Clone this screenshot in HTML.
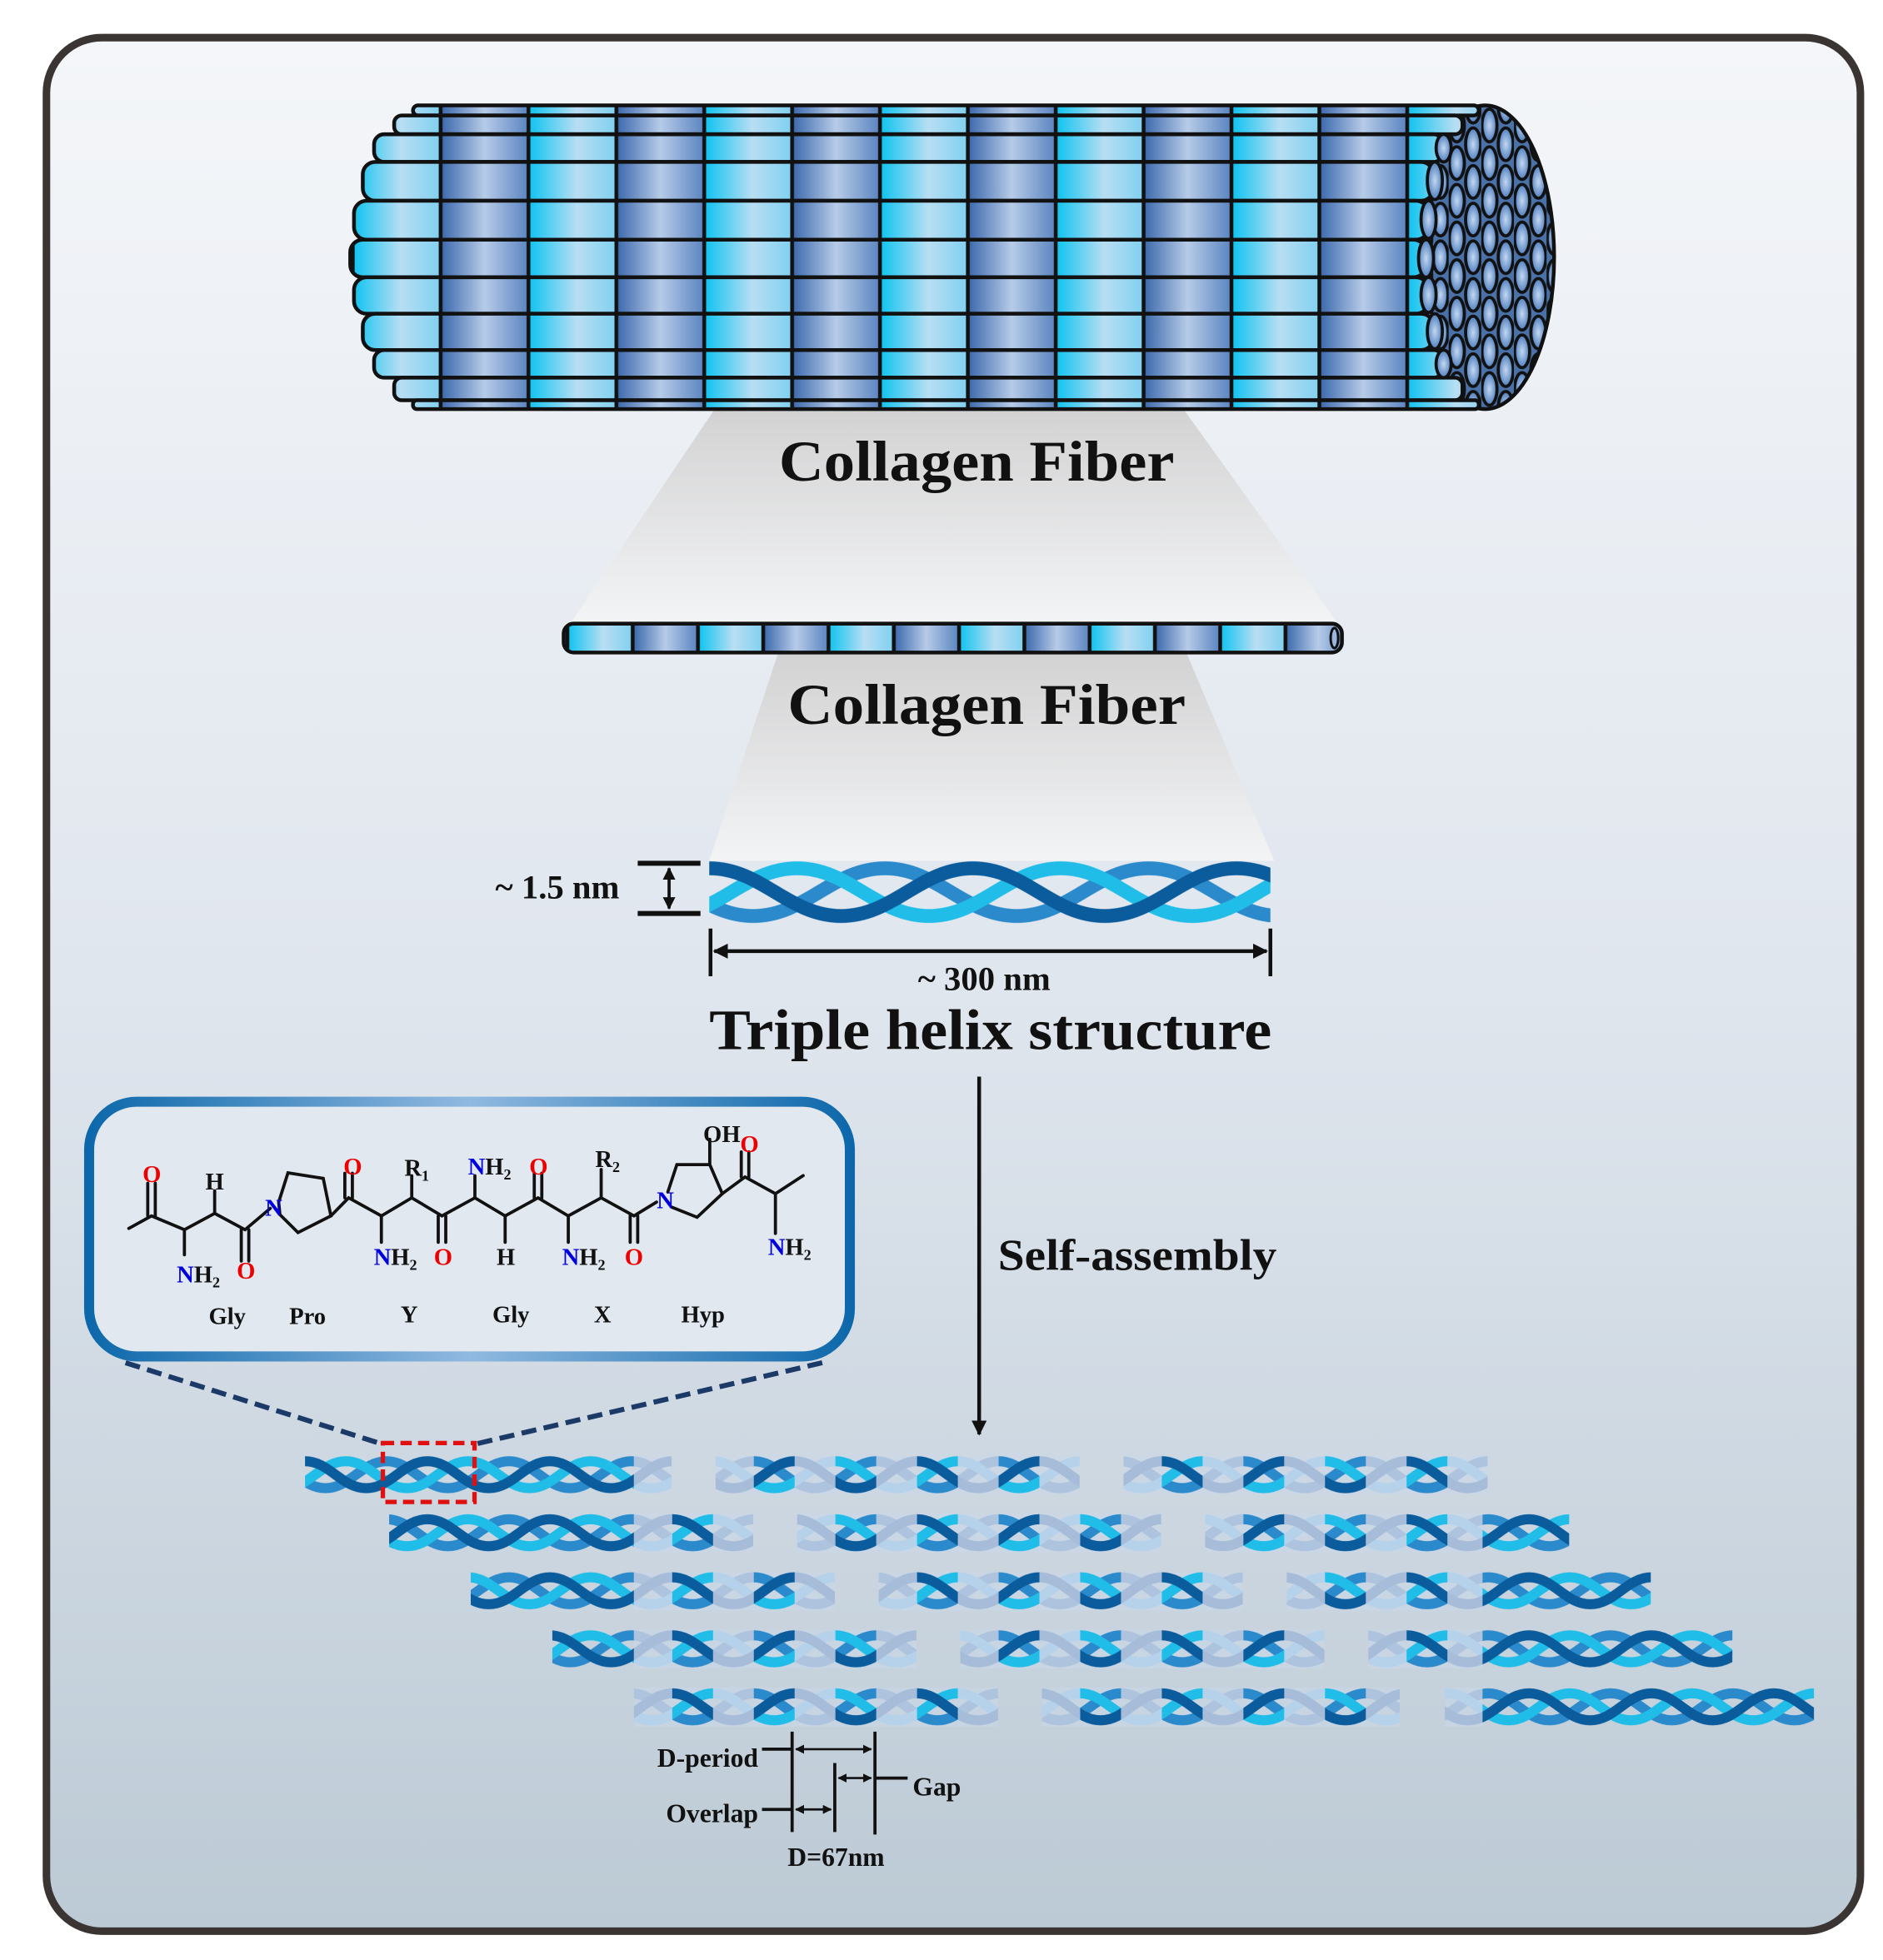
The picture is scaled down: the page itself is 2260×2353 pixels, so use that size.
<!DOCTYPE html>
<html><head><meta charset="utf-8"><style>
html,body{margin:0;padding:0;background:#fff;}
svg{display:block;}
text{font-family:"Liberation Serif",serif;font-weight:bold;}
</style></head><body>
<svg width="2260" height="2353" viewBox="0 0 1500 1562" preserveAspectRatio="none" xmlns="http://www.w3.org/2000/svg">
<defs>
<linearGradient id="bg" x1="0" y1="0" x2="0" y2="1"><stop offset="0" stop-color="#f4f6f9"/><stop offset="0.5" stop-color="#e0e6ee"/><stop offset="1" stop-color="#bccad5"/></linearGradient>
<linearGradient id="fun" x1="0" y1="0" x2="0" y2="1"><stop offset="0" stop-color="#d2d2d3"/><stop offset="1" stop-color="#f3f4f5"/></linearGradient>
<linearGradient id="cy" x1="0" y1="0" x2="1" y2="0"><stop offset="0" stop-color="#0cc3f0"/><stop offset="0.55" stop-color="#b8def3"/><stop offset="1" stop-color="#7fd0f0"/></linearGradient>
<linearGradient id="bl" x1="0" y1="0" x2="1" y2="0"><stop offset="0" stop-color="#3a67ab"/><stop offset="0.5" stop-color="#b6cbe8"/><stop offset="1" stop-color="#5a84c0"/></linearGradient>
<pattern id="fib" patternUnits="userSpaceOnUse" x="281" y="0" width="140" height="400">
<rect x="0" y="0" width="70" height="400" fill="url(#cy)"/>
<rect x="70" y="0" width="70" height="400" fill="url(#bl)"/>
<rect x="-1.5" y="0" width="3" height="400" fill="#111"/>
<rect x="68.5" y="0" width="3" height="400" fill="#111"/>
<rect x="138.5" y="0" width="3" height="400" fill="#111"/>
</pattern>
<pattern id="fib2" patternUnits="userSpaceOnUse" x="452" y="0" width="104" height="600">
<rect x="0" y="0" width="52" height="600" fill="url(#cy)"/>
<rect x="52" y="0" width="52" height="600" fill="url(#bl)"/>
<rect x="-1.5" y="0" width="3" height="600" fill="#111"/>
<rect x="50.5" y="0" width="3" height="600" fill="#111"/>
<rect x="102.5" y="0" width="3" height="600" fill="#111"/>
</pattern>
<radialGradient id="capg" cx="0.5" cy="0.5" r="0.5"><stop offset="0" stop-color="#c4d8f0"/><stop offset="1" stop-color="#4f7fc0"/></radialGradient>
<pattern id="cap" patternUnits="userSpaceOnUse" x="1128" y="85" width="26" height="30">
<rect width="26" height="30" fill="#4a72a8"/>
<ellipse cx="6.5" cy="15" rx="6" ry="13" fill="url(#capg)" stroke="#111" stroke-width="2.5"/>
<ellipse cx="19.5" cy="0" rx="6" ry="13" fill="url(#capg)" stroke="#111" stroke-width="2.5"/>
<ellipse cx="19.5" cy="30" rx="6" ry="13" fill="url(#capg)" stroke="#111" stroke-width="2.5"/>
</pattern>
<clipPath id="capclip"><ellipse cx="1183" cy="205" rx="55" ry="121"/></clipPath>
<pattern id="ht" patternUnits="userSpaceOnUse" x="565" y="683" width="210" height="56">
<g fill="none" stroke-width="11" stroke-linecap="round">
<path transform="translate(140,0)" stroke="#2a8acb" d="M-210,9 C-168,9 -147,47 -105,47 S-42,9 0,9 S63,47 105,47 S168,9 210,9 S273,47 315,47"/>
<path transform="translate(70,0)" stroke="#1fbde8" d="M-210,9 C-168,9 -147,47 -105,47 S-42,9 0,9 S63,47 105,47 S168,9 210,9 S273,47 315,47"/>
<path stroke="#0a5c9c" d="M-210,9 C-168,9 -147,47 -105,47 S-42,9 0,9 S63,47 105,47 S168,9 210,9 S273,47 315,47"/>
</g>
</pattern>
<pattern id="hr" patternUnits="userSpaceOnUse" x="243" y="1160" width="97.5" height="46.25">
<g fill="none" stroke-width="8">
<path transform="translate(65,0)" stroke="#2a8acb" d="M-97.5,4.5 C-78,4.5 -68,26 -48.75,26 S-19.5,4.5 0,4.5 S29,26 48.75,26 S78,4.5 97.5,4.5 S127,26 146.25,26"/>
<path transform="translate(32.5,0)" stroke="#1fbde8" d="M-97.5,4.5 C-78,4.5 -68,26 -48.75,26 S-19.5,4.5 0,4.5 S29,26 48.75,26 S78,4.5 97.5,4.5 S127,26 146.25,26"/>
<path stroke="#0a5c9c" d="M-97.5,4.5 C-78,4.5 -68,26 -48.75,26 S-19.5,4.5 0,4.5 S29,26 48.75,26 S78,4.5 97.5,4.5 S127,26 146.25,26"/>
</g>
</pattern>
<pattern id="hf" patternUnits="userSpaceOnUse" x="243" y="1160" width="97.5" height="46.25">
<rect x="0" y="0" width="97.5" height="31" fill="#c9d8ea" fill-opacity="0.5"/>
<g fill="none" stroke-width="8">
<path transform="translate(65,0)" stroke="#adc3de" d="M-97.5,4.5 C-78,4.5 -68,26 -48.75,26 S-19.5,4.5 0,4.5 S29,26 48.75,26 S78,4.5 97.5,4.5 S127,26 146.25,26"/>
<path transform="translate(32.5,0)" stroke="#b5d2ea" d="M-97.5,4.5 C-78,4.5 -68,26 -48.75,26 S-19.5,4.5 0,4.5 S29,26 48.75,26 S78,4.5 97.5,4.5 S127,26 146.25,26"/>
<path stroke="#a6bcd8" d="M-97.5,4.5 C-78,4.5 -68,26 -48.75,26 S-19.5,4.5 0,4.5 S29,26 48.75,26 S78,4.5 97.5,4.5 S127,26 146.25,26"/>
</g>
</pattern>
<pattern id="st" patternUnits="userSpaceOnUse" x="243" y="0" width="65" height="1600">
<rect x="32.5" y="0" width="32.5" height="1600" fill="#fff"/>
</pattern>
<mask id="mk" maskUnits="userSpaceOnUse" x="0" y="0" width="1500" height="1562"><rect x="0" y="0" width="1500" height="1562" fill="url(#st)"/></mask>
<linearGradient id="boxg" x1="0" y1="0" x2="1" y2="0"><stop offset="0" stop-color="#0d68ab"/><stop offset="0.5" stop-color="#90b9e0"/><stop offset="1" stop-color="#0d68ab"/></linearGradient>
<marker id="ah" viewBox="0 0 10 10" refX="9" refY="5" markerWidth="4" markerHeight="4" orient="auto-start-reverse"><path d="M0,0 L10,5 L0,10 z" fill="#111"/></marker>
</defs>

<rect x="37" y="30" width="1445" height="1509" rx="44" fill="url(#bg)" stroke="#3a3433" stroke-width="6"/>

<polygon points="570,325 942,325 1065,496 455,496" fill="url(#fun)"/>
<polygon points="620,520 945,520 1015,686 565,686" fill="url(#fun)"/>

<g clip-path="url(#capclip)"><rect x="1120" y="80" width="130" height="250" fill="url(#cap)"/></g>
<ellipse cx="1183" cy="205" rx="55" ry="121" fill="none" stroke="#111" stroke-width="3"/>

<g stroke="#111" stroke-width="3" fill="url(#fib)">
<rect x="329" y="84" width="849" height="8" rx="4"/>
<rect x="314" y="92" width="851" height="15" rx="6"/>
<rect x="298" y="107" width="852" height="22" rx="8"/>
<rect x="289" y="129" width="853" height="31" rx="10"/>
<rect x="282" y="160" width="856" height="31" rx="10"/>
<rect x="279" y="191" width="857" height="30" rx="10"/>
<rect x="282" y="221" width="856" height="29" rx="10"/>
<rect x="289" y="250" width="853" height="29" rx="10"/>
<rect x="298" y="279" width="852" height="22" rx="8"/>
<rect x="314" y="301" width="851" height="18" rx="6"/>
<rect x="329" y="319" width="849" height="7" rx="3"/>
</g>
<g fill="url(#capg)" stroke="#111" stroke-width="2.5">
<ellipse cx="1150" cy="118" rx="6" ry="11"/><ellipse cx="1143" cy="144" rx="6" ry="15"/>
<ellipse cx="1138" cy="175" rx="6" ry="15"/><ellipse cx="1136" cy="206" rx="6" ry="15"/>
<ellipse cx="1138" cy="235" rx="6" ry="14"/><ellipse cx="1143" cy="264" rx="6" ry="14"/>
<ellipse cx="1150" cy="290" rx="6" ry="11"/>
</g>
<text x="778" y="383" font-size="46" text-anchor="middle" textLength="315" lengthAdjust="spacingAndGlyphs" fill="#111">Collagen Fiber</text>

<rect x="449" y="497" width="620" height="23" rx="8" fill="url(#fib2)" stroke="#111" stroke-width="3"/>
<ellipse cx="1063" cy="508.5" rx="3" ry="8" fill="#9bb8de" stroke="#111" stroke-width="2"/>
<text x="786" y="577" font-size="46" text-anchor="middle" textLength="317" lengthAdjust="spacingAndGlyphs" fill="#111">Collagen Fiber</text>

<rect x="565" y="683" width="447" height="56" fill="url(#ht)"/>
<g stroke="#111" stroke-width="4">
<line x1="508" y1="688" x2="558" y2="688"/><line x1="508" y1="728" x2="558" y2="728"/>
</g>
<line x1="533" y1="692" x2="533" y2="724" stroke="#111" stroke-width="2.5" marker-start="url(#ah)" marker-end="url(#ah)"/>
<text x="444" y="716" font-size="27" text-anchor="middle" fill="#111">~ 1.5 nm</text>
<g stroke="#111" stroke-width="3">
<line x1="566" y1="740" x2="566" y2="778"/><line x1="1012" y1="740" x2="1012" y2="778"/>
</g>
<line x1="569" y1="758" x2="1009" y2="758" stroke="#111" stroke-width="3" marker-start="url(#ah)" marker-end="url(#ah)"/>
<text x="784" y="789" font-size="27" text-anchor="middle" fill="#111">~ 300 nm</text>
<text x="789" y="836" font-size="46" text-anchor="middle" textLength="448" lengthAdjust="spacingAndGlyphs" fill="#111">Triple helix structure</text>

<line x1="780" y1="858" x2="780" y2="1143" stroke="#111" stroke-width="3" marker-end="url(#ah)"/>
<text x="795" y="1012" font-size="35" fill="#111" textLength="222" lengthAdjust="spacingAndGlyphs">Self-assembly</text>

<rect x="71" y="878" width="606" height="203" rx="38" fill="#e1e8f0" stroke="url(#boxg)" stroke-width="8"/>
<g stroke="#111" stroke-width="2.5" fill="none" stroke-linecap="round">
<polyline points="102.6,979 120.7,969 146.9,980 171,967 195.2,980 215.3,963"/>
<line x1="117.7" y1="969" x2="117.7" y2="943"/><line x1="123.7" y1="969" x2="123.7" y2="943"/>
<line x1="146.9" y1="980" x2="146.9" y2="1000"/>
<line x1="171" y1="967" x2="171" y2="949"/>
<line x1="192.2" y1="980" x2="192.2" y2="1005"/><line x1="198.2" y1="980" x2="198.2" y2="1005"/>
<polygon points="222,958 229.4,934.7 257.5,939.1 263.6,969 237.4,982.3 223,968"/>
<polyline points="263.6,969 277.7,954.6 303.8,969 328,954.6 352.1,969 378.3,954.6 402.4,969 428.6,954.6 452.7,969 478.9,954.6 505,969 523,958"/>
<line x1="274.7" y1="954.6" x2="274.7" y2="935"/><line x1="280.7" y1="954.6" x2="280.7" y2="935"/>
<line x1="303.8" y1="969" x2="303.8" y2="990"/>
<line x1="328" y1="954.6" x2="328" y2="937"/>
<line x1="349.1" y1="969" x2="349.1" y2="990"/><line x1="355.1" y1="969" x2="355.1" y2="990"/>
<line x1="378.3" y1="954.6" x2="378.3" y2="937"/>
<line x1="402.4" y1="969" x2="402.4" y2="990"/>
<line x1="425.6" y1="954.6" x2="425.6" y2="935"/><line x1="431.6" y1="954.6" x2="431.6" y2="935"/>
<line x1="452.7" y1="969" x2="452.7" y2="990"/>
<line x1="478.9" y1="954.6" x2="478.9" y2="932"/>
<line x1="502" y1="969" x2="502" y2="990"/><line x1="508" y1="969" x2="508" y2="990"/>
<polyline points="532,950 539.2,928.1 565.4,928.1 575.4,951.3 555.3,970.1 535,962"/>
<line x1="565.4" y1="928.1" x2="565.4" y2="908"/>
<polyline points="575.4,951.3 593.5,938 617.7,951.3 639.8,936.9"/>
<line x1="590.5" y1="938" x2="590.5" y2="918"/><line x1="596.5" y1="938" x2="596.5" y2="918"/>
<line x1="617.7" y1="951.3" x2="617.7" y2="983"/>
</g>
<g font-size="19" text-anchor="middle">
<text x="121" y="942" fill="#e00">O</text>
<text x="171" y="948" fill="#111">H</text>
<text x="158" y="1022"><tspan fill="#0000dd">N</tspan><tspan fill="#111">H</tspan><tspan fill="#111" font-size="12" dy="4">2</tspan></text>
<text x="196" y="1019" fill="#e00">O</text>
<text x="218" y="969" fill="#0000dd">N</text>
<text x="281" y="936" fill="#e00">O</text>
<text x="332" y="937" fill="#111">R<tspan font-size="12" dy="4">1</tspan></text>
<text x="315" y="1008"><tspan fill="#0000dd">N</tspan><tspan fill="#111">H</tspan><tspan fill="#111" font-size="12" dy="4">2</tspan></text>
<text x="353" y="1008" fill="#e00">O</text>
<text x="390" y="936"><tspan fill="#0000dd">N</tspan><tspan fill="#111">H</tspan><tspan fill="#111" font-size="12" dy="4">2</tspan></text>
<text x="403" y="1008" fill="#111">H</text>
<text x="429" y="936" fill="#e00">O</text>
<text x="465" y="1008"><tspan fill="#0000dd">N</tspan><tspan fill="#111">H</tspan><tspan fill="#111" font-size="12" dy="4">2</tspan></text>
<text x="484" y="930" fill="#111">R<tspan font-size="12" dy="4">2</tspan></text>
<text x="505" y="1008" fill="#e00">O</text>
<text x="530" y="963" fill="#0000dd">N</text>
<text x="575" y="910" fill="#111">OH</text>
<text x="597" y="918" fill="#e00">O</text>
<text x="629" y="1000"><tspan fill="#0000dd">N</tspan><tspan fill="#111">H</tspan><tspan fill="#111" font-size="12" dy="4">2</tspan></text>
</g>
<g font-size="19" text-anchor="middle" fill="#111">
<text x="181" y="1055">Gly</text><text x="245" y="1055">Pro</text><text x="326" y="1054">Y</text>
<text x="407" y="1054">Gly</text><text x="480" y="1054">X</text><text x="560" y="1054">Hyp</text>
</g>

<g stroke="#1b3a68" stroke-width="4" stroke-dasharray="12 6" fill="none">
<line x1="100" y1="1086" x2="305" y2="1151"/><line x1="655" y1="1086" x2="378" y2="1151"/>
</g>

<g>
<rect x="243" y="1160" width="262" height="32" fill="url(#hr)"/>
<rect x="505" y="1160" width="30" height="32" fill="url(#hf)"/>
<rect x="570" y="1160" width="290" height="32" fill="url(#hf)"/>
<rect x="895" y="1160" width="290" height="32" fill="url(#hf)"/>
<g mask="url(#mk)">
<rect x="570" y="1160" width="290" height="32" fill="url(#hr)"/>
<rect x="895" y="1160" width="290" height="32" fill="url(#hr)"/>
</g>
<rect x="310" y="1206.25" width="195" height="32" fill="url(#hr)"/>
<rect x="505" y="1206.25" width="95" height="32" fill="url(#hf)"/>
<rect x="635" y="1206.25" width="290" height="32" fill="url(#hf)"/>
<rect x="960" y="1206.25" width="221" height="32" fill="url(#hf)"/>
<g mask="url(#mk)">
<rect x="505" y="1206.25" width="95" height="32" fill="url(#hr)"/>
<rect x="635" y="1206.25" width="290" height="32" fill="url(#hr)"/>
<rect x="960" y="1206.25" width="221" height="32" fill="url(#hr)"/>
</g>
<rect x="1181" y="1206.25" width="69" height="32" fill="url(#hr)"/>
<rect x="375" y="1252.5" width="130" height="32" fill="url(#hr)"/>
<rect x="505" y="1252.5" width="160" height="32" fill="url(#hf)"/>
<rect x="700" y="1252.5" width="290" height="32" fill="url(#hf)"/>
<rect x="1025" y="1252.5" width="156" height="32" fill="url(#hf)"/>
<g mask="url(#mk)">
<rect x="505" y="1252.5" width="160" height="32" fill="url(#hr)"/>
<rect x="700" y="1252.5" width="290" height="32" fill="url(#hr)"/>
<rect x="1025" y="1252.5" width="156" height="32" fill="url(#hr)"/>
</g>
<rect x="1181" y="1252.5" width="134" height="32" fill="url(#hr)"/>
<rect x="440" y="1298.75" width="65" height="32" fill="url(#hr)"/>
<rect x="505" y="1298.75" width="225" height="32" fill="url(#hf)"/>
<rect x="765" y="1298.75" width="290" height="32" fill="url(#hf)"/>
<rect x="1090" y="1298.75" width="91" height="32" fill="url(#hf)"/>
<g mask="url(#mk)">
<rect x="505" y="1298.75" width="225" height="32" fill="url(#hr)"/>
<rect x="765" y="1298.75" width="290" height="32" fill="url(#hr)"/>
<rect x="1090" y="1298.75" width="91" height="32" fill="url(#hr)"/>
</g>
<rect x="1181" y="1298.75" width="199" height="32" fill="url(#hr)"/>
<rect x="505" y="1345" width="290" height="32" fill="url(#hf)"/>
<rect x="830" y="1345" width="285" height="32" fill="url(#hf)"/>
<rect x="1151" y="1345" width="30" height="32" fill="url(#hf)"/>
<g mask="url(#mk)">
<rect x="505" y="1345" width="290" height="32" fill="url(#hr)"/>
<rect x="830" y="1345" width="285" height="32" fill="url(#hr)"/>
</g>
<rect x="1181" y="1345" width="264" height="32" fill="url(#hr)"/>
</g>
<rect x="305" y="1150" width="73" height="47" fill="none" stroke="#e01010" stroke-width="3.5" stroke-dasharray="9 5"/>

<g stroke="#111" stroke-width="2.5">
<line x1="631" y1="1380" x2="631" y2="1460"/>
<line x1="665" y1="1405" x2="665" y2="1460"/>
<line x1="697" y1="1380" x2="697" y2="1462"/>
<line x1="607" y1="1394" x2="631" y2="1394"/>
<line x1="607" y1="1442" x2="631" y2="1442"/>
<line x1="697" y1="1417" x2="723" y2="1417"/>
</g>
<g stroke="#111" stroke-width="1.8">
<line x1="634" y1="1394" x2="694" y2="1394" marker-start="url(#ah)" marker-end="url(#ah)"/>
<line x1="668" y1="1417" x2="694" y2="1417" marker-start="url(#ah)" marker-end="url(#ah)"/>
<line x1="634" y1="1442" x2="662" y2="1442" marker-start="url(#ah)" marker-end="url(#ah)"/>
</g>
<g font-size="21" fill="#111">
<text x="604" y="1408" text-anchor="end">D-period</text>
<text x="727" y="1431">Gap</text>
<text x="604" y="1452" text-anchor="end">Overlap</text>
<text x="666" y="1487" text-anchor="middle">D=67nm</text>
</g>
</svg>
</body></html>
